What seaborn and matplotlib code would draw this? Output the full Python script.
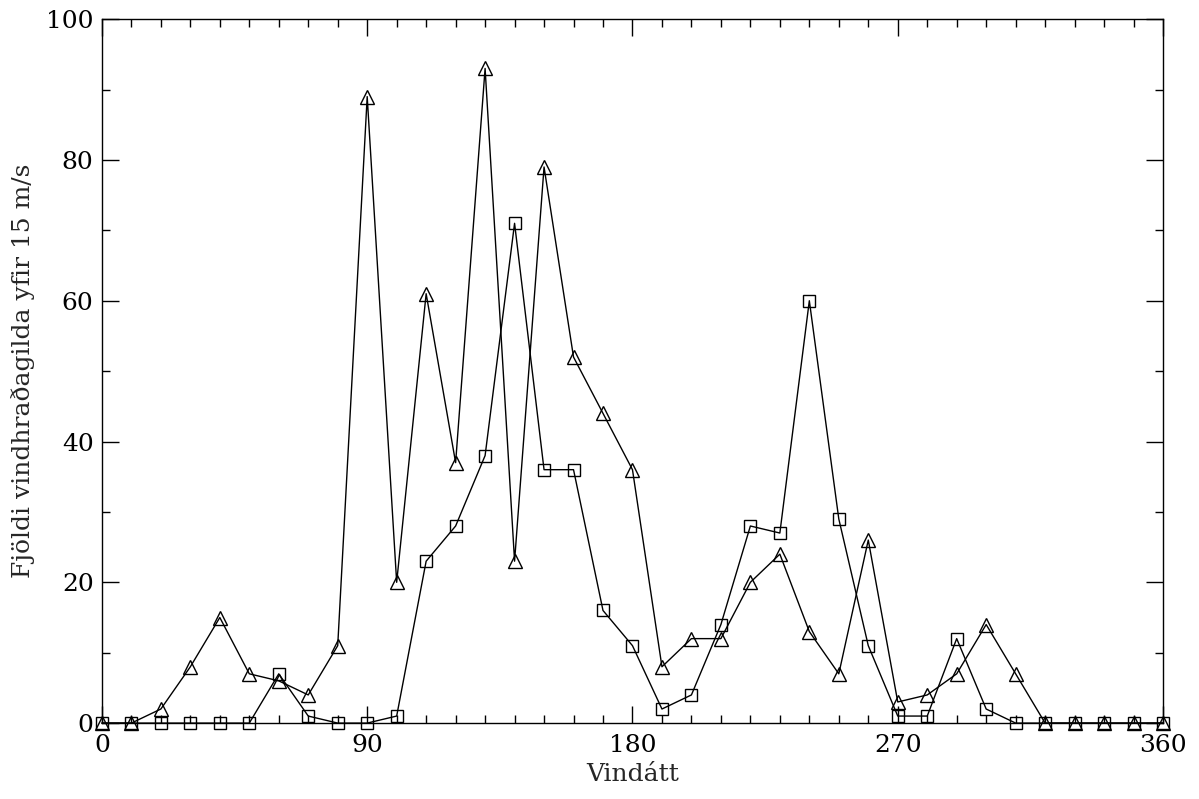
import numpy as np
import pandas as pd
import matplotlib
matplotlib.use("Agg")
import matplotlib.pyplot as plt
import seaborn as sns
from matplotlib.ticker import MultipleLocator

directions = list(range(0, 361, 10))
triangles = [0, 0, 2, 8, 15, 7, 6, 4, 11, 89, 20, 61, 37, 93, 23, 79, 52, 44, 36,
             8, 12, 12, 20, 24, 13, 7, 26, 3, 4, 7, 14, 7, 0, 0, 0, 0, 0]
squares = [0, 0, 0, 0, 0, 0, 7, 1, 0, 0, 1, 23, 28, 38, 71, 36, 36, 16, 11,
           2, 4, 14, 28, 27, 60, 29, 11, 1, 1, 12, 2, 0, 0, 0, 0, 0, 0]
x_ticks = [0, 90, 180, 270, 360]
y_ticks = [0, 20, 40, 60, 80, 100]

df = pd.DataFrame({
    "dir": directions * 2,
    "val": triangles + squares,
    "series": ["tri"] * len(directions) + ["sq"] * len(directions),
})

sns.set_style("ticks")
plt.rcParams["font.family"] = ["DejaVu Serif"]

fig = plt.figure(figsize=(11.99, 7.99), dpi=100)
ax = fig.add_axes([0.085, 0.095, 0.885, 0.881])

sns.lineplot(data=df, x="dir", y="val", style="series", markers={"tri": "^", "sq": "s"},
             dashes=False, color="black", lw=1.0, ax=ax, legend=False,
             markerfacecolor="white", markeredgecolor="black", markeredgewidth=1.0,
             markersize=10, estimator=None, sort=False)
for l, ms in zip(ax.lines, [10, 8]):
    l.set_markersize(ms)
    l.set_markerfacecolor("none")
    l.set_clip_on(False)
    l.set_zorder(5)

ax.set_xlim(0, 360)
ax.set_ylim(0, 100)
ax.set_xticks(x_ticks)
ax.set_yticks(y_ticks)
ax.xaxis.set_minor_locator(MultipleLocator(10))
ax.yaxis.set_minor_locator(MultipleLocator(10))
ax.tick_params(which="both", direction="in", top=True, right=True, labelsize=18, colors="black")
ax.tick_params(which="major", length=12, width=1)
ax.tick_params(which="minor", length=6, width=1)
ax.tick_params(axis="y", pad=6)
ax.tick_params(axis="x", pad=8)
for s in ax.spines.values():
    s.set_linewidth(1.0)
    s.set_color("black")
ax.set_xlabel("Vindátt", fontsize=18, labelpad=4)
ax.set_ylabel("Fjöldi vindhraðagilda yfir 15 m/s", fontsize=18, labelpad=8)

fig.savefig("out.png", dpi=100, facecolor="white")
